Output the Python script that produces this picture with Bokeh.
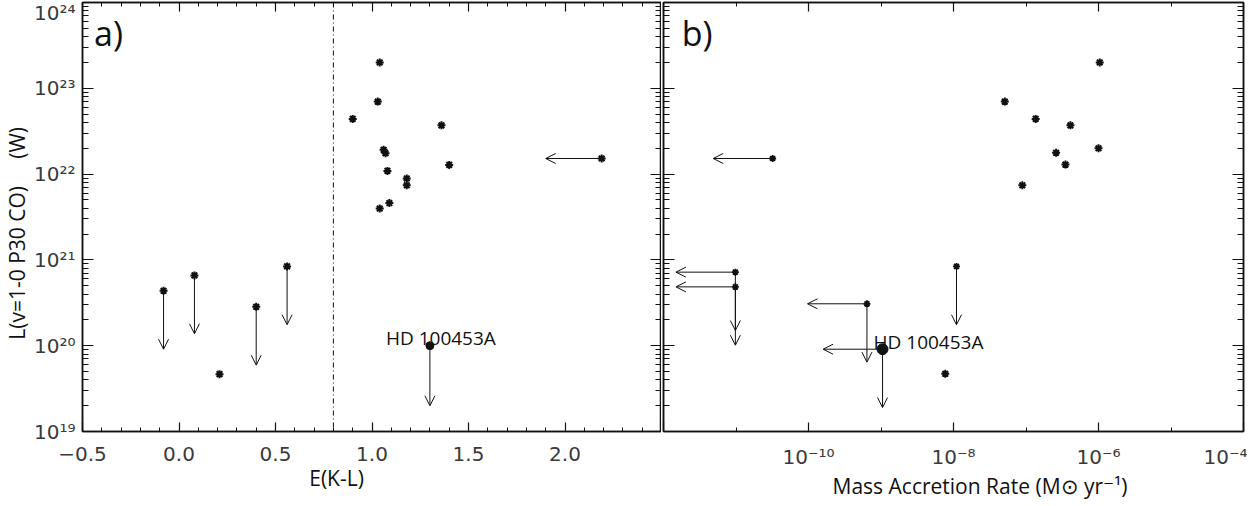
from bokeh.plotting import figure
from bokeh.layouts import row
from bokeh.models import (ColumnDataSource, Arrow, OpenHead, Label, Span, LinearAxis, LogAxis,
                          FixedTicker, SingleIntervalTicker, CustomJSTickFormatter)
from bokeh.embed import file_html
from bokeh.resources import INLINE

# ---------------- data ----------------
# panel a) E(K-L) vs L(CO)
ekl_det = [0.90, 1.04, 1.03, 1.06, 1.07, 1.08, 1.18, 1.18, 1.04, 1.09, 1.36, 1.40, 0.21]
lco_det_a = [4.4e22, 2.0e23, 7.0e22, 1.92e22, 1.75e22, 1.09e22, 8.9e21, 7.4e21, 3.97e21, 4.6e21,
             3.7e22, 1.28e22, 4.66e19]
ekl_lim = [-0.08, 0.08, 0.40, 0.56]            # L(CO) upper limits
lco_lim_a = [4.36e20, 6.6e20, 2.84e20, 8.4e20]
ekl_xlim = [2.19]                                # E(K-L) upper limit
lco_xlim_a = [1.52e22]
hd_ekl = [1.30]
hd_lco_a = [1.0e20]

# panel b) mass accretion rate vs L(CO)
mdot_det = [1.04e-6, 5.1e-8, 1.36e-7, 4.1e-7, 1.0e-6, 2.6e-7, 3.5e-7, 8.9e-8, 7.7e-9]
lco_det_b = [2.0e23, 7.0e22, 4.4e22, 3.7e22, 2.0e22, 1.77e22, 1.29e22, 7.4e21, 4.7e19]
mdot_xlim = [3.2e-11]                            # Mdot upper limit only
lco_xlim_b = [1.52e22]
mdot_both = [9.8e-12, 9.8e-12, 6.4e-10]          # both upper limits
lco_both_b = [7.2e20, 4.85e20, 3.08e20]
mdot_ylim = [1.1e-8]                             # L(CO) upper limit only
lco_ylim_b = [8.4e20]
hd_mdot = [1.05e-9]
hd_lco_b = [9.1e19]

# ---------------- style ----------------
FONT = "Open Sans"
TICKFONT = "DejaVu Sans"
INK = "#111111"
NB = "\u00a0"
DOWN_DEX = 0.68     # arrow length (decades) for L upper limits
LEFT_DEX = 0.82     # arrow length (decades) for Mdot upper limits
LEFT_EKL = 0.29     # arrow length for E(K-L) upper limit

sup_js = """
const sup = {"-":"\u207b","0":"\u2070","1":"\u00b9","2":"\u00b2","3":"\u00b3","4":"\u2074",
             "5":"\u2075","6":"\u2076","7":"\u2077","8":"\u2078","9":"\u2079"};
const e = Math.round(Math.log10(tick));
"""
log_fmt = CustomJSTickFormatter(code=sup_js + """
return "10" + String(e).split("").map(c => sup[c]).join("");
""")
logx_fmt = CustomJSTickFormatter(code=sup_js + """
if (e <= -12) return "";
return "10" + String(e).split("").map(c => sup[c]).join("");
""")
lin_fmt = CustomJSTickFormatter(code="""
if (tick > 2.4) return "";
return tick.toFixed(1).replace("-", "\u2212");
""")
blank_fmt = CustomJSTickFormatter(code="return '';")

ymaj = [10.0 ** k for k in range(19, 25)]
ymin = [m * 10.0 ** k for k in range(19, 24) for m in range(2, 10)]
xmaj_b = [10.0 ** k for k in (-12, -10, -8, -6, -4)]
xmin_b = [10.0 ** k for k in (-11, -9, -7, -5)]


def style_axis(ax, labels=True, major=10, minor=5):
    ax.axis_line_color = INK
    ax.axis_line_width = 1.5
    ax.major_tick_line_color = INK
    ax.minor_tick_line_color = INK
    ax.major_tick_line_width = 1.2
    ax.minor_tick_line_width = 1.0
    ax.major_tick_in = major
    ax.major_tick_out = 0
    ax.minor_tick_in = minor
    ax.minor_tick_out = 0
    ax.major_label_text_font = TICKFONT
    ax.major_label_text_color = "#3a3a3a"
    ax.major_label_text_font_size = "20px" if labels else "0px"
    ax.axis_label_text_font = FONT
    ax.axis_label_text_font_style = "normal"
    ax.axis_label_text_font_size = "21px"
    ax.axis_label_text_color = INK
    if not labels:
        ax.major_label_standoff = 0
        ax.formatter = blank_fmt


def make_fig(x_range, x_type, **kw):
    p = figure(x_range=x_range, y_range=(1e19, 1e24), x_axis_type=x_type, y_axis_type="log",
               frame_height=429, toolbar_location=None, output_backend="svg",
               min_border_top=2, min_border_bottom=60, **kw)
    p.xgrid.visible = False
    p.ygrid.visible = False
    p.outline_line_color = INK
    p.outline_line_width = 1.5
    p.background_fill_color = "white"
    p.border_fill_color = "white"
    return p


# ---------------- panel a ----------------
p1 = make_fig((-0.5, 2.5), "linear", frame_width=579, min_border_left=78, min_border_right=0)
xt_a = SingleIntervalTicker(interval=0.5, num_minor_ticks=5)
yt = FixedTicker(ticks=ymaj, minor_ticks=ymin)

xa = p1.xaxis[0]
xa.ticker = xt_a
xa.formatter = lin_fmt
style_axis(xa, major=9, minor=4)
xa.major_label_standoff = 15
xa.axis_label = "E(K-L)" + NB * 13
xa.axis_label_standoff = 0

ya = p1.yaxis[0]
ya.ticker = yt
ya.formatter = log_fmt
style_axis(ya, major=11, minor=6)
ya.major_label_standoff = 7
ya.axis_label = "L(v=1-0 P30 CO)" + NB * 5 + "(W)" + NB * 6
ya.axis_label_text_font_size = "21px"
ya.axis_label_standoff = 0

top_a = LinearAxis(ticker=xt_a)
style_axis(top_a, labels=False, major=9, minor=4)
p1.add_layout(top_a, "above")
right_a = LogAxis(ticker=yt)
style_axis(right_a, labels=False, major=11, minor=6)
p1.add_layout(right_a, "right")

p1.add_layout(Span(location=0.8, dimension="height", line_color=INK, line_width=1,
                   line_dash="5 3 1 3"))


def arrows(p, xs0, ys0, xs1, ys1):
    src = ColumnDataSource(dict(x0=xs0, y0=ys0, x1=xs1, y1=ys1))
    p.add_layout(Arrow(end=OpenHead(size=10, line_width=1, line_color=INK),
                       x_start="x0", y_start="y0", x_end="x1", y_end="y1",
                       source=src, line_width=1, line_color=INK))


arrows(p1, ekl_lim, lco_lim_a, ekl_lim, [v / 10 ** DOWN_DEX for v in lco_lim_a])
arrows(p1, ekl_xlim, lco_xlim_a, [v - LEFT_EKL for v in ekl_xlim], lco_xlim_a)
arrows(p1, hd_ekl, hd_lco_a, hd_ekl, [v / 10 ** 0.7 for v in hd_lco_a])

star = dict(marker="asterisk", size=8, line_width=2, line_color=INK)
p1.scatter(ekl_det, lco_det_a, **star)
p1.scatter(ekl_lim, lco_lim_a, **star)
p1.scatter(ekl_xlim, lco_xlim_a, **star)
p1.scatter(hd_ekl, hd_lco_a, marker="circle", size=8, fill_color=INK, line_color=INK)

p1.add_layout(Label(x=hd_ekl[0], y=hd_lco_a[0], text="HD 100453A", x_offset=11, y_offset=8,
                    text_align="center", text_baseline="alphabetic", text_font=FONT,
                    text_font_size="19px", text_color=INK))
p1.add_layout(Label(x=-0.44, y=10 ** 23.65, text="a)", text_align="left", text_baseline="middle",
                    text_font=FONT, text_font_size="34px", text_color=INK))

# ---------------- panel b ----------------
p2 = make_fig((1e-12, 1e-4), "log", frame_width=580, min_border_left=2, min_border_right=4)
xt_b = FixedTicker(ticks=xmaj_b, minor_ticks=xmin_b)

xb = p2.xaxis[0]
xb.ticker = xt_b
xb.formatter = logx_fmt
style_axis(xb, major=9, minor=4)
xb.major_label_standoff = 13
xb.axis_label = NB * 9 + "Mass Accretion Rate (M\u2299 yr\u207b\u00b9)"
xb.axis_label_standoff = 0

yb = p2.yaxis[0]
yb.ticker = yt
style_axis(yb, labels=False, major=11, minor=6)

top_b = LogAxis(ticker=xt_b)
style_axis(top_b, labels=False, major=9, minor=4)
p2.add_layout(top_b, "above")
right_b = LogAxis(ticker=yt)
style_axis(right_b, labels=False, major=11, minor=6)
p2.add_layout(right_b, "right")

arrows(p2, mdot_xlim, lco_xlim_b, [v / 10 ** LEFT_DEX for v in mdot_xlim], lco_xlim_b)
arrows(p2, mdot_both, lco_both_b, [v / 10 ** LEFT_DEX for v in mdot_both], lco_both_b)
arrows(p2, mdot_both, lco_both_b, mdot_both, [v / 10 ** DOWN_DEX for v in lco_both_b])
arrows(p2, mdot_ylim, lco_ylim_b, mdot_ylim, [v / 10 ** DOWN_DEX for v in lco_ylim_b])
arrows(p2, hd_mdot, hd_lco_b, [v / 10 ** LEFT_DEX for v in hd_mdot], hd_lco_b)
arrows(p2, hd_mdot, hd_lco_b, hd_mdot, [v / 10 ** DOWN_DEX for v in hd_lco_b])

star_s = dict(marker="asterisk", size=7, line_width=1.8, line_color=INK)
p2.scatter(mdot_det, lco_det_b, **star)
p2.scatter(mdot_xlim, lco_xlim_b, **star_s)
p2.scatter(mdot_both, lco_both_b, **star_s)
p2.scatter(mdot_ylim, lco_ylim_b, **star_s)
p2.scatter(hd_mdot, hd_lco_b, marker="circle", size=11, fill_color=INK, line_color=INK)

p2.add_layout(Label(x=hd_mdot[0], y=hd_lco_b[0], text="HD 100453A", x_offset=-9, y_offset=7,
                    text_align="left", text_baseline="alphabetic", text_font=FONT,
                    text_font_size="19px", text_color=INK))
p2.add_layout(Label(x=10 ** -11.75, y=10 ** 23.65, text="b)", text_align="left",
                    text_baseline="middle", text_font=FONT, text_font_size="34px",
                    text_color=INK))

layout = row(p1, p2)
open("out.html", "w").write(file_html(layout, INLINE))
